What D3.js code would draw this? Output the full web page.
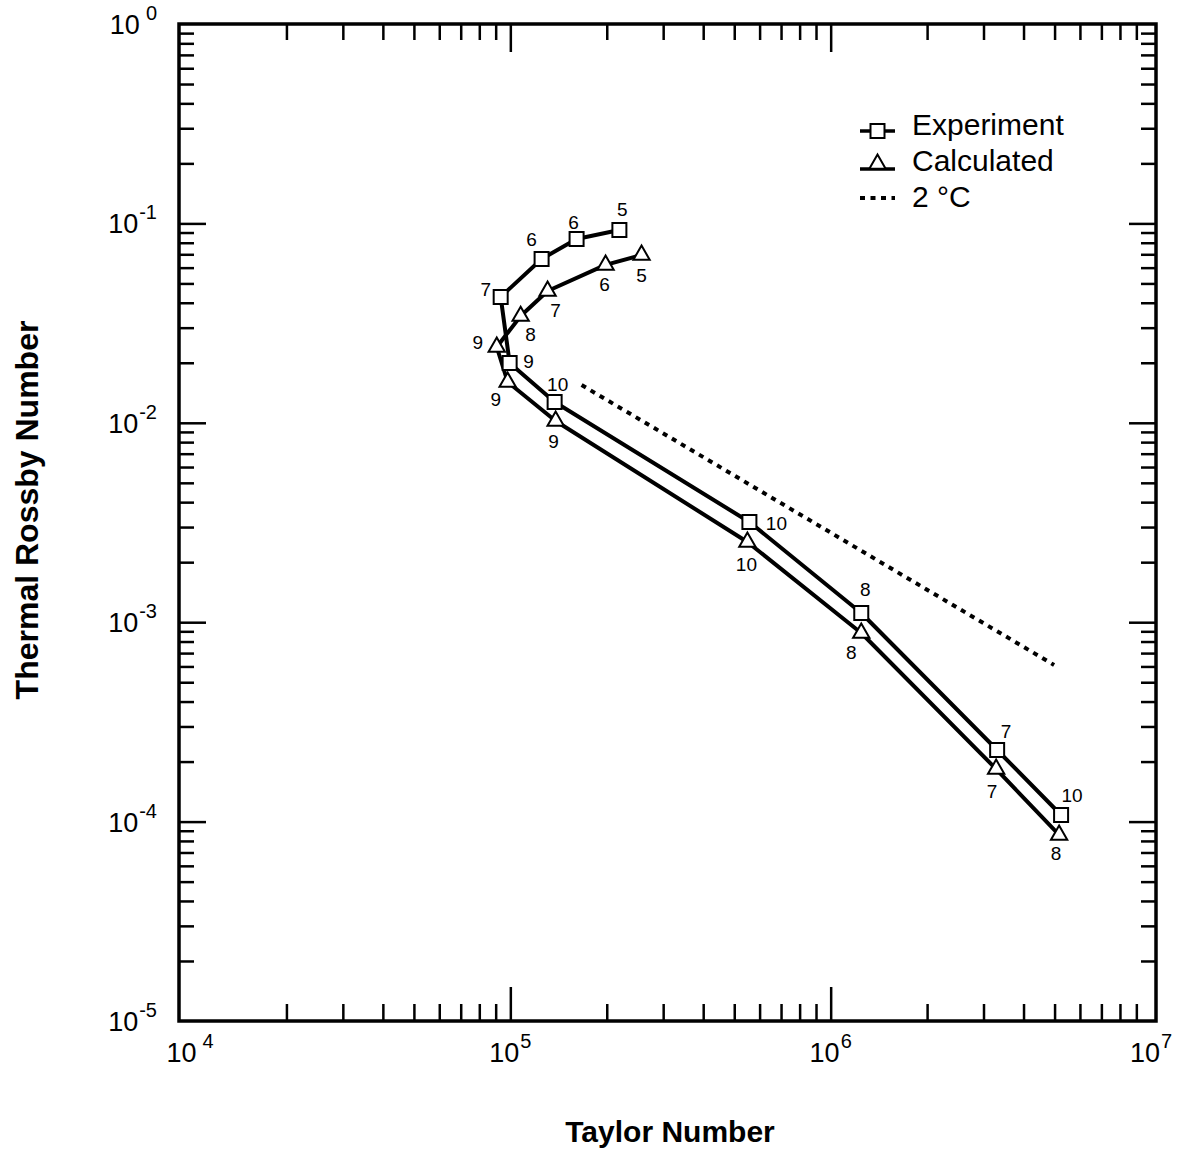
<!DOCTYPE html>
<html><head><meta charset="utf-8">
<script src="https://cdn.jsdelivr.net/npm/d3@7"></script>
<style>
body{margin:0;background:#fff}
text{font-family:"Liberation Sans",Arial,Helvetica,sans-serif;fill:#000}
</style>
</head><body>
<svg id="c" width="1191" height="1155"></svg>
<script>
// ---- data ----
const expTaylor  = [2.19e5, 1.61e5, 1.252e5, 9.33e4, 9.95e4, 1.375e5, 5.576e5, 1.246e6, 3.309e6, 5.24e6];
const expRossby  = [0.0927, 0.0835, 0.0663, 0.0428, 0.01995, 0.01272, 0.00318, 0.001112, 2.286e-4, 1.079e-4];
const expLabels  = ["5","6","6","7","9","10","10","8","7","10"];
const calcTaylor = [2.568e5, 1.983e5, 1.307e5, 1.077e5, 9.07e4, 9.81e4, 1.385e5, 5.496e5, 1.246e6, 3.285e6, 5.166e6];
const calcRossby = [0.0694, 0.0619, 0.0458, 0.0343, 0.0240, 0.01602, 0.01021, 0.002525, 8.83e-4, 1.835e-4, 8.57e-5];
const calcLabels = ["5","6","7","8","9","9","9","10","8","7","8"];
const refTaylor  = [1.669e5, 4.983e6];
const refRossby  = [0.01547, 6.10e-4];
const xTickExps  = [4, 5, 6, 7];
const yTickExps  = [0, -1, -2, -3, -4, -5];
const seriesNames = ["Experiment", "Calculated", "2 \u00B0C"];
const xTitle = "Taylor Number";
const yTitle = "Thermal Rossby Number";

// ---- layout ----
const X0 = 179, X1 = 1156, Y0 = 24, Y1 = 1021;
const expOff  = [[3,-20],[-3,-17],[-10,-19],[-15,-7],[19,-1],[3,-17],[27,1],[4,-24],[9,-19],[11,-20]];
const calcOff = [[0,20],[-1,20],[8,19],[10,18],[-19,-4],[-12,18],[-2,20],[-1,23],[-10,20],[-4,22],[-3,19]];

const svg = d3.select("#c");
const x = d3.scaleLog().domain([1e4, 1e7]).range([190, 1151]);
const y = d3.scaleLog().domain([1e-5, 1]).range([Y1, Y0]);

// tick values
const xMinor = [], xMajor = [1e5, 1e6];
[4,5,6].forEach(e => { for (let m = 2; m <= 9; m++) xMinor.push(m * Math.pow(10, e)); });
const yMinor = [], yMajor = [1e-1, 1e-2, 1e-3, 1e-4];
[-5,-4,-3,-2,-1].forEach(e => { for (let m = 2; m <= 9; m++) yMinor.push(m * Math.pow(10, e)); });

function styleAxis(g) {
  g.select(".domain").remove();
  g.selectAll(".tick line").attr("stroke", "#000").attr("stroke-width", 2.5);
  g.selectAll(".tick text").remove();
}
const axes = svg.append("g");
axes.append("g").attr("transform", `translate(0,${Y1})`)
  .call(d3.axisBottom(x).tickValues(xMinor).tickSizeInner(-17).tickSizeOuter(0)).call(styleAxis);
axes.append("g").attr("transform", `translate(0,${Y1})`)
  .call(d3.axisBottom(x).tickValues(xMajor).tickSizeInner(-34).tickSizeOuter(0)).call(styleAxis);
axes.append("g").attr("transform", `translate(0,${Y0})`)
  .call(d3.axisTop(x).tickValues(xMinor).tickSizeInner(-16).tickSizeOuter(0)).call(styleAxis);
axes.append("g").attr("transform", `translate(0,${Y0})`)
  .call(d3.axisTop(x).tickValues(xMajor).tickSizeInner(-28).tickSizeOuter(0)).call(styleAxis);
axes.append("g").attr("transform", `translate(${X0},0)`)
  .call(d3.axisLeft(y).tickValues(yMinor).tickSizeInner(-15).tickSizeOuter(0)).call(styleAxis);
axes.append("g").attr("transform", `translate(${X0},0)`)
  .call(d3.axisLeft(y).tickValues(yMajor).tickSizeInner(-27).tickSizeOuter(0)).call(styleAxis);
axes.append("g").attr("transform", `translate(${X1},0)`)
  .call(d3.axisRight(y).tickValues(yMinor).tickSizeInner(-15).tickSizeOuter(0)).call(styleAxis);
axes.append("g").attr("transform", `translate(${X1},0)`)
  .call(d3.axisRight(y).tickValues(yMajor).tickSizeInner(-27).tickSizeOuter(0)).call(styleAxis);

// frame
svg.append("rect").attr("x", X0).attr("y", Y0).attr("width", X1 - X0).attr("height", Y1 - Y0)
  .attr("fill", "none").attr("stroke", "#000").attr("stroke-width", 3.5);

// tick labels
xTickExps.forEach(e => {
  const t = svg.append("text").attr("x", x(Math.pow(10, e))).attr("y", 1062)
    .attr("text-anchor", "middle").attr("font-size", 27);
  t.append("tspan").text("10");
  t.append("tspan").attr("dx", e === 4 ? 6 : 1).attr("dy", -14).attr("font-size", 20).text(String(e));
});
yTickExps.forEach(e => {
  const t = svg.append("text").attr("x", 157).attr("y", y(Math.pow(10, e)) + 10)
    .attr("text-anchor", "end").attr("font-size", 27);
  t.append("tspan").text("10");
  t.append("tspan").attr("dx", e === 0 ? 6 : 1).attr("dy", -14).attr("font-size", 20).text(String(e));
});

// axis titles
svg.append("text").attr("x", 670).attr("y", 1142).attr("text-anchor", "middle")
  .attr("font-size", 30).attr("font-weight", "bold").text(xTitle);
svg.append("text").attr("transform", "translate(38,510) rotate(-90)").attr("text-anchor", "middle")
  .attr("font-size", 32).attr("font-weight", "bold").text(yTitle);

// data
const expData  = expTaylor.map((t, i) => ({t, r: expRossby[i], lab: expLabels[i], off: expOff[i]}));
const calcData = calcTaylor.map((t, i) => ({t, r: calcRossby[i], lab: calcLabels[i], off: calcOff[i]}));
const refData  = refTaylor.map((t, i) => ({t, r: refRossby[i]}));
const line = d3.line().x(d => x(d.t)).y(d => y(d.r));

svg.append("path").datum(refData).attr("d", line).attr("fill", "none")
  .attr("stroke", "#000").attr("stroke-width", 4).attr("stroke-dasharray", "5,5.5");
svg.append("path").datum(expData).attr("d", line).attr("fill", "none")
  .attr("stroke", "#000").attr("stroke-width", 4).attr("stroke-linejoin", "round");
svg.append("path").datum(calcData).attr("d", line).attr("fill", "none")
  .attr("stroke", "#000").attr("stroke-width", 4).attr("stroke-linejoin", "round");

const sq = d3.symbol().type(d3.symbolSquare).size(14 * 14);
const tri = d3.symbol().type(d3.symbolTriangle).size(115);
svg.append("g").selectAll("path").data(expData).join("path")
  .attr("transform", d => `translate(${x(d.t)},${y(d.r)})`).attr("d", sq)
  .attr("fill", "#fff").attr("stroke", "#000").attr("stroke-width", 2);
svg.append("g").selectAll("path").data(calcData).join("path")
  .attr("transform", d => `translate(${x(d.t)},${y(d.r)})`).attr("d", tri)
  .attr("fill", "#fff").attr("stroke", "#000").attr("stroke-width", 2);

function labels(data) {
  svg.append("g").selectAll("text").data(data).join("text")
    .attr("x", d => x(d.t) + d.off[0]).attr("y", d => y(d.r) + d.off[1])
    .attr("text-anchor", "middle").attr("dominant-baseline", "central")
    .attr("font-size", 19).text(d => d.lab);
}
labels(expData);
labels(calcData);

// legend
const lg = svg.append("g");
const lx0 = 860, lx1 = 895, ltx = 912;
const base = [135, 171, 207];
seriesNames.forEach((n, i) => {
  lg.append("text").attr("x", ltx).attr("y", base[i]).attr("font-size", 30).text(n);
});
lg.append("line").attr("x1", lx0).attr("x2", lx1).attr("y1", base[0] - 4).attr("y2", base[0] - 4)
  .attr("stroke", "#000").attr("stroke-width", 3.5);
lg.append("path").attr("transform", `translate(${(lx0 + lx1) / 2},${base[0] - 4})`).attr("d", sq)
  .attr("fill", "#fff").attr("stroke", "#000").attr("stroke-width", 2);
lg.append("line").attr("x1", lx0).attr("x2", lx1).attr("y1", base[1] - 2).attr("y2", base[1] - 2)
  .attr("stroke", "#000").attr("stroke-width", 3.5);
lg.append("path").attr("transform", `translate(${(lx0 + lx1) / 2},${base[1] - 7})`).attr("d", tri)
  .attr("fill", "#fff").attr("stroke", "#000").attr("stroke-width", 2);
lg.append("line").attr("x1", lx0).attr("x2", lx1).attr("y1", base[2] - 9).attr("y2", base[2] - 9)
  .attr("stroke", "#000").attr("stroke-width", 4).attr("stroke-dasharray", "5,5.5");
</script>
</body></html>
